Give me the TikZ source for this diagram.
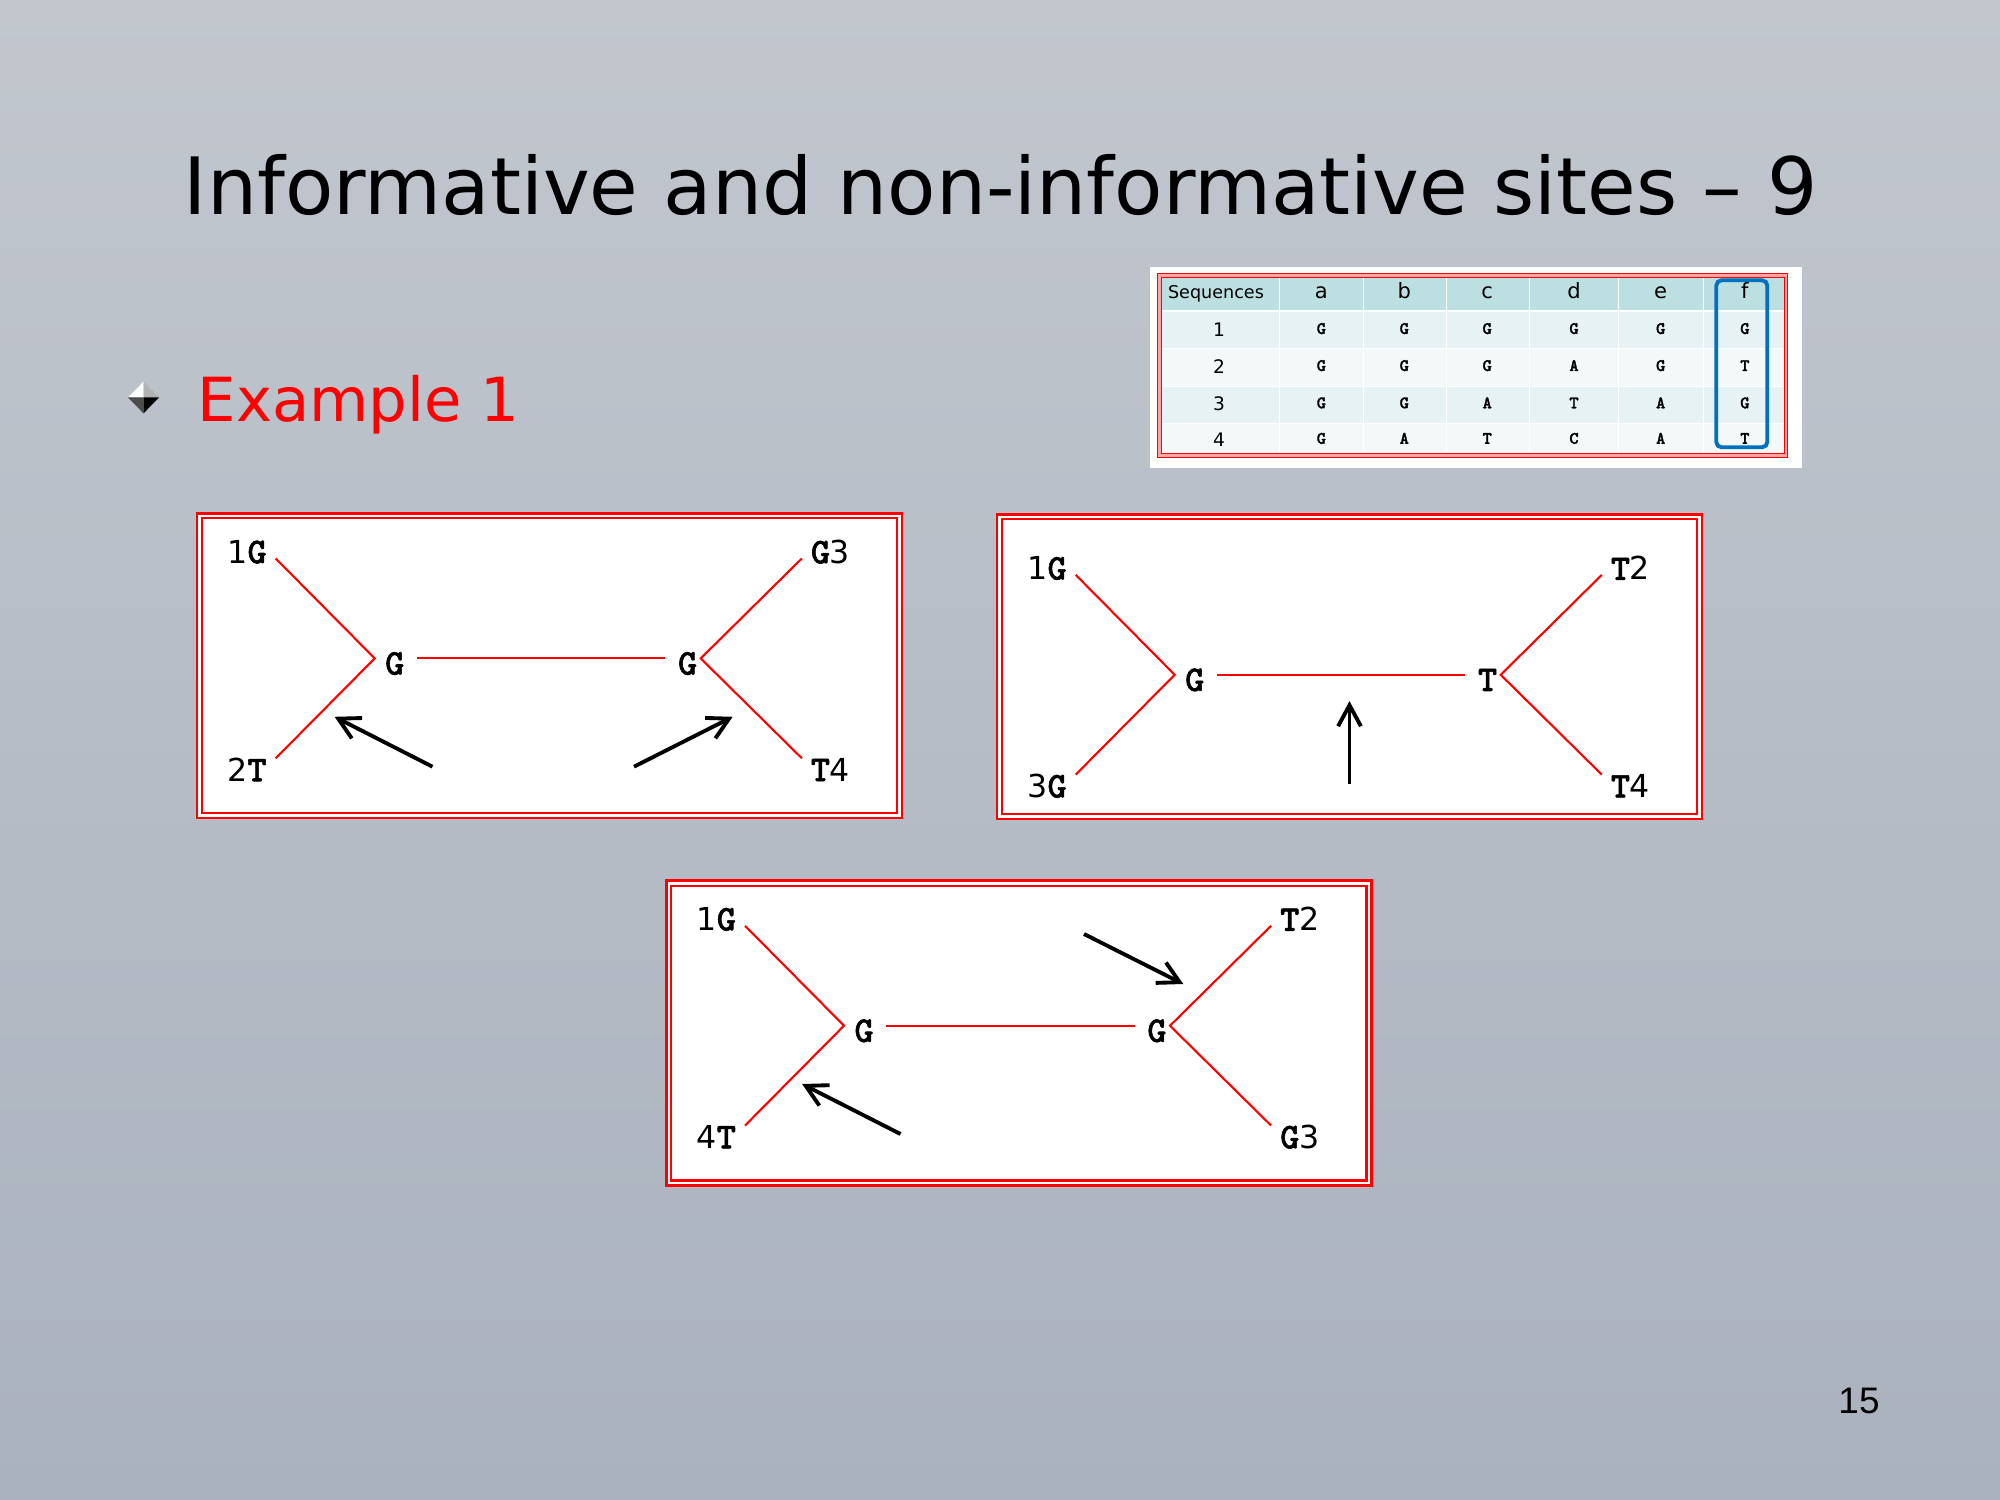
\documentclass[tikz,border=0pt]{standalone}
\usepackage{fontspec}
\setmainfont{DejaVu Sans}
\newfontfamily\cour[FakeBold=1.6]{lmmonolt10-bold.otf}
\newfontfamily\arial{Liberation Sans}
\usetikzlibrary{arrows.meta}
\definecolor{slidetop}{RGB}{194,199,206}
\definecolor{slidebot}{RGB}{170,178,190}
\definecolor{headteal}{RGB}{188,224,226}
\definecolor{rowa}{RGB}{230,242,244}
\definecolor{rowb}{RGB}{243,249,249}
\definecolor{markblue}{RGB}{0,112,192}
\newcommand{\nt}[1]{{\fontsize{10.3}{10}\cour #1}}

\begin{document}
\begin{tikzpicture}[x=0.1mm,y=-0.1mm,
    treebox/.style={draw=red,line width=0.77pt,fill=white},
    innerbox/.style={draw=red,line width=0.65pt},
    branch/.style={red,line width=0.6pt},
    leaf/.style={inner sep=2.4pt,font=\fontsize{9}{9}\selectfont},
    centre/.style={inner xsep=3.4pt,inner ysep=0pt,text height=9.2pt,text depth=0pt,font=\fontsize{10.3}{10}\cour},
    pointer/.style={line width=1.1pt,-{Straight Barb[length=6pt,width=6.5pt]}},
    headcell/.style={anchor=base,inner sep=0pt,font=\fontsize{6}{6}\selectfont},
    numcell/.style={anchor=base,inner sep=0pt,font=\fontsize{5.3}{5.3}\selectfont},
    basecell/.style={anchor=base,inner sep=0pt,font=\fontsize{5}{5}\cour}]
    \useasboundingbox (0,0) rectangle (2000,1500);
    % slide background
    \fill[top color=slidetop,bottom color=slidebot] (0,0) rectangle (2000,1500);

    % title and bullet
    \node[anchor=base west,inner sep=0pt,font=\fontsize{22.5}{26}\selectfont] (title) at (183,215) {Informative and non-informative sites -- 9};
    \fill[white] (143.5,381.7) -- (127.9,397.5) -- (143.5,397.5) -- cycle;
    \fill[gray!60] (143.5,381.7) -- (159.1,397.5) -- (143.5,397.5) -- cycle;
    \fill[black!70] (127.9,397.5) -- (143.5,413.3) -- (143.5,397.5) -- cycle;
    \fill[black] (159.1,397.5) -- (143.5,413.3) -- (143.5,397.5) -- cycle;
    \node[anchor=base west,inner sep=0pt,text=red,font=\fontsize{17.3}{20}\selectfont] (example) at (197,421.7) {Example 1};

    % sequence table
    \fill[white] (1150,267) rectangle (1801.7,468.3);
    \fill[headteal] (1159.5,275.5) rectangle (1786,310);
    \fill[rowa] (1159.5,311.7) rectangle (1786,348.3);
    \fill[rowb] (1159.5,349.5) rectangle (1786,385.7);
    \fill[rowa] (1159.5,387) rectangle (1786,423.3);
    \fill[rowb] (1159.5,424.5) rectangle (1786,455.5);
    \foreach \x in {1279.3,1363.5,1446.4,1529.3,1618.6,1703.3}
        \draw[white,line width=0.35pt] (\x,275.5) -- (\x,455.5);
    \draw[draw=red,double=red!35,line width=0.3pt,double distance=0.6pt] (1159.5,275.5) rectangle (1786,455.5);
    \node[headcell,font=\fontsize{5}{5}\selectfont] (hseq) at (1216,298.5) {Sequences};
    \foreach \x/\c in {1321.4/a,1404.3/b,1487.2/c,1574/d,1660.7/e,1744.9/f}
        \node[headcell] (h\c) at (\x,298.5) {\c};
    \foreach \y/\r/\sa/\sb/\sc/\sd/\se/\sf in {336.7/1/G/G/G/G/G/G,373.7/2/G/G/G/A/G/T,411/3/G/G/A/T/A/G,446.5/4/G/A/T/C/A/T}{
        \node[numcell] (n\r) at (1219,\y) {\r};
        \foreach \x/\c/\b in {1321.4/a/\sa,1404.3/b/\sb,1487.2/c/\sc,1574/d/\sd,1660.7/e/\se,1744.9/f/\sf}
            \node[basecell] (s\r\c) at (\x,\y-2.7) {\b};
    }
    \draw[markblue,line width=1.1pt,rounded corners=1.5pt] (1716.3,280.3) rectangle (1767.3,447.3);

    % tree 1
    \begin{scope}[shift={(197,513.5)}]
        \draw[treebox] (0,0) rectangle (705,304.5);
        \draw[innerbox] (4.85,4.85) rectangle (700.15,299.65);
        \node[leaf] (ta1) at (50,38.3) {1\nt{G}};
        \node[leaf] (ta2) at (50,256) {2\nt{T}};
        \node[leaf] (ta3) at (633.5,38.3) {\nt{G}3};
        \node[leaf] (ta4) at (633.5,256) {\nt{T}4};
        \node[centre] (tal) at (197.7,144.9) {G};
        \node[centre] (tar) at (490.6,144.9) {G};
        \coordinate (tau) at (177.7,144.9);
        \coordinate (tav) at (503.7,144.9);
        \draw[branch] ([yshift=-1.9pt]ta1.east) -- (tau) -- ([yshift=3.2pt]ta2.east);
        \draw[branch] (tal) -- (tar);
        \draw[branch] ([yshift=-1.9pt]ta3.west) -- (tav) -- ([yshift=3.2pt]ta4.west);
        \coordinate (pa1) at (235.5,253.2);
        \coordinate (qa1) at (137.6,203.3);
        \coordinate (pa2) at (437,253.2);
        \coordinate (qa2) at (535.7,203.3);
        \draw[pointer] (pa1) -- (qa1);
        \draw[pointer] (pa2) -- (qa2);
    \end{scope}

    % tree 2
    \begin{scope}[shift={(997,514.5)}]
        \draw[treebox] (0,0) rectangle (705,304.5);
        \draw[innerbox] (4.85,4.85) rectangle (700.15,299.65);
        \node[leaf] (tb1) at (50,53.7) {1\nt{G}};
        \node[leaf] (tb2) at (50,271.4) {3\nt{G}};
        \node[leaf] (tb3) at (633.5,53.7) {\nt{T}2};
        \node[leaf] (tb4) at (633.5,271.4) {\nt{T}4};
        \node[centre] (tbl) at (197.7,160.3) {G};
        \node[centre] (tbr) at (490.6,160.3) {T};
        \coordinate (tbu) at (177.7,160.3);
        \coordinate (tbv) at (503.7,160.3);
        \draw[branch] ([yshift=-1.9pt]tb1.east) -- (tbu) -- ([yshift=3.2pt]tb2.east);
        \draw[branch] (tbl) -- (tbr);
        \draw[branch] ([yshift=-1.9pt]tb3.west) -- (tbv) -- ([yshift=3.2pt]tb4.west);
        \coordinate (pb1) at (352.5,269.1);
        \coordinate (qb1) at (352.5,186.6);
        \draw[pointer] (pb1) -- (qb1);
    \end{scope}

    % tree 3
    \begin{scope}[shift={(666.3,880.8)}]
        \draw[treebox] (0,0) rectangle (705,304.5);
        \draw[innerbox] (4.85,4.85) rectangle (700.15,299.65);
        \node[leaf] (tc1) at (50,38.3) {1\nt{G}};
        \node[leaf] (tc2) at (50,256) {4\nt{T}};
        \node[leaf] (tc3) at (633.5,38.3) {\nt{T}2};
        \node[leaf] (tc4) at (633.5,256) {\nt{G}3};
        \node[centre] (tcl) at (197.7,144.9) {G};
        \node[centre] (tcr) at (490.6,144.9) {G};
        \coordinate (tcu) at (177.7,144.9);
        \coordinate (tcv) at (503.7,144.9);
        \draw[branch] ([yshift=-1.9pt]tc1.east) -- (tcu) -- ([yshift=3.2pt]tc2.east);
        \draw[branch] (tcl) -- (tcr);
        \draw[branch] ([yshift=-1.9pt]tc3.west) -- (tcv) -- ([yshift=3.2pt]tc4.west);
        \coordinate (pc1) at (234.2,253.2);
        \coordinate (qc1) at (135.8,203.2);
        \coordinate (pc2) at (417.7,53.2);
        \coordinate (qc2) at (517,103.2);
        \draw[pointer] (pc1) -- (qc1);
        \draw[pointer] (pc2) -- (qc2);
    \end{scope}

    % page number
    \node[anchor=base,inner sep=0pt,font=\fontsize{10.5}{12}\arial] (pagenum) at (1859,1413.3) {15};
\end{tikzpicture}
\end{document}
